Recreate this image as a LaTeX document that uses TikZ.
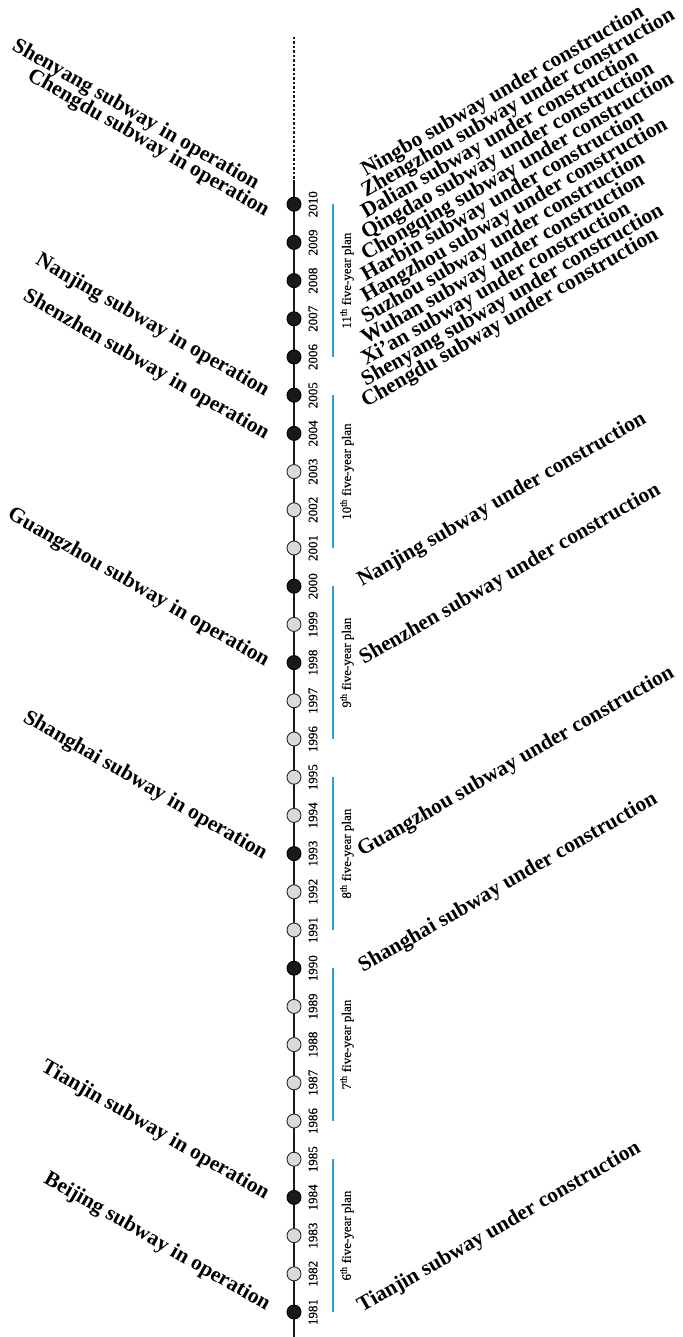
\documentclass[tikz,border=0pt]{standalone}
\usepackage{fontspec}
\setmainfont{Liberation Serif}[FakeBold=0.4]
\newfontfamily\labfont{Liberation Serif Bold}
\definecolor{planblue}{RGB}{40,160,215}
\definecolor{dotgray}{RGB}{218,218,218}
\definecolor{dotblack}{RGB}{25,25,25}
\begin{document}
\begin{tikzpicture}[x=1pt,y=-1pt,
  yrlab/.style={rotate=90, font=\fontsize{13}{14}\selectfont, inner sep=0pt},
  planlab/.style={rotate=90, font=\fontsize{13}{14}\selectfont, inner sep=0pt},
  oplab/.style={rotate=-30, anchor=base east, font=\labfont\fontsize{21.5}{24}\selectfont, inner sep=0pt},
  conlab/.style={rotate=30, anchor=base west, font=\labfont\fontsize{21.5}{24}\selectfont, inner sep=0pt},
  dotfull/.style={circle, draw=black, fill=dotblack, minimum size=14pt, inner sep=0pt, line width=0.9pt},
  dotempty/.style={circle, draw=black!85, fill=dotgray, minimum size=14pt, inner sep=0pt, line width=0.9pt},
  planline/.style={draw=planblue, line width=2.4pt},
  axis/.style={draw=black!90, line width=1.8pt},
  future/.style={draw=black!90, line width=1.3pt, dash pattern=on 2.5pt off 2pt}]
\useasboundingbox (0,0) rectangle (682,1337);
% timeline
\coordinate (top) at (294,37);
\coordinate (mid) at (294,180);
\coordinate (bot) at (294,1337);
\draw[future] (top) -- (mid);
\draw[axis] (mid) -- (bot);
% years
\foreach \yr/\st in {1981/dotfull,1982/dotempty,1983/dotempty,1984/dotfull,1985/dotempty,
  1986/dotempty,1987/dotempty,1988/dotempty,1989/dotempty,1990/dotfull,
  1991/dotempty,1992/dotempty,1993/dotfull,1994/dotempty,1995/dotempty,
  1996/dotempty,1997/dotempty,1998/dotfull,1999/dotempty,2000/dotfull,
  2001/dotempty,2002/dotempty,2003/dotempty,2004/dotfull,2005/dotfull,
  2006/dotfull,2007/dotfull,2008/dotfull,2009/dotfull,2010/dotfull}{
  \pgfmathsetmacro\yy{1312-(\yr-1981)*38.2}
  \node[\st] (c\yr) at (294,\yy) {};
  \node[yrlab] (y\yr) at (313,\yy) {\yr};
}
% plans
\foreach \n/\a/\b in {6/1981/1985,7/1986/1990,8/1991/1995,9/1996/2000,10/2001/2005,11/2006/2010}{
  \pgfmathsetmacro\ya{1312-(\a-1981)*38.2}
  \pgfmathsetmacro\yb{1312-(\b-1981)*38.2}
  \pgfmathsetmacro\ym{(\ya+\yb)/2}
  \coordinate (pa\n) at (333,\ya);
  \coordinate (pb\n) at (333,\yb);
  \draw[planline] (pa\n) -- (pb\n);
  \node[planlab] (pl\n) at (347,\ym) {\n\textsuperscript{th} five-year plan};
}
% in operation (left)
\node[oplab] (opBJ) at (266,1311) {Beijing subway in operation};
\node[oplab] (opTJ) at (265,1200) {Tianjin subway in operation};
\node[oplab] (opSH) at (263,860) {Shanghai subway in operation};
\node[oplab] (opGZ) at (265,667) {Guangzhou subway in operation};
\node[oplab] (opSZ) at (265,440) {Shenzhen subway in operation};
\node[oplab] (opNJ) at (265,397) {Nanjing subway in operation};
\node[oplab] (opCD) at (265,217) {Chengdu subway in operation};
\node[oplab] (opSY) at (255,190) {Shenyang subway in operation};
% under construction (right)
\node[conlab] (ucTJ) at (362,1313) {Tianjin subway under construction};
\node[conlab] (ucSH) at (363,973) {Shanghai subway under construction};
\node[conlab] (ucGZ) at (362,857) {Guangzhou subway under construction};
\node[conlab] (ucSZ) at (364,665) {Shenzhen subway under construction};
\node[conlab] (ucNJ) at (362,587) {Nanjing subway under construction};
\foreach \i/\city in {0/Ningbo,1/Zhengzhou,2/Dalian,3/Qingdao,4/Chongqing,5/Harbin,
  6/Hangzhou,7/Suzhou,8/Wuhan,9/Xi’an,10/Shenyang,11/Chengdu}{
  \pgfmathsetmacro\ys{177+21*\i}
  \node[conlab] (st\i) at (366,\ys) {\city{} subway under construction};
}
\end{tikzpicture}
\end{document}
